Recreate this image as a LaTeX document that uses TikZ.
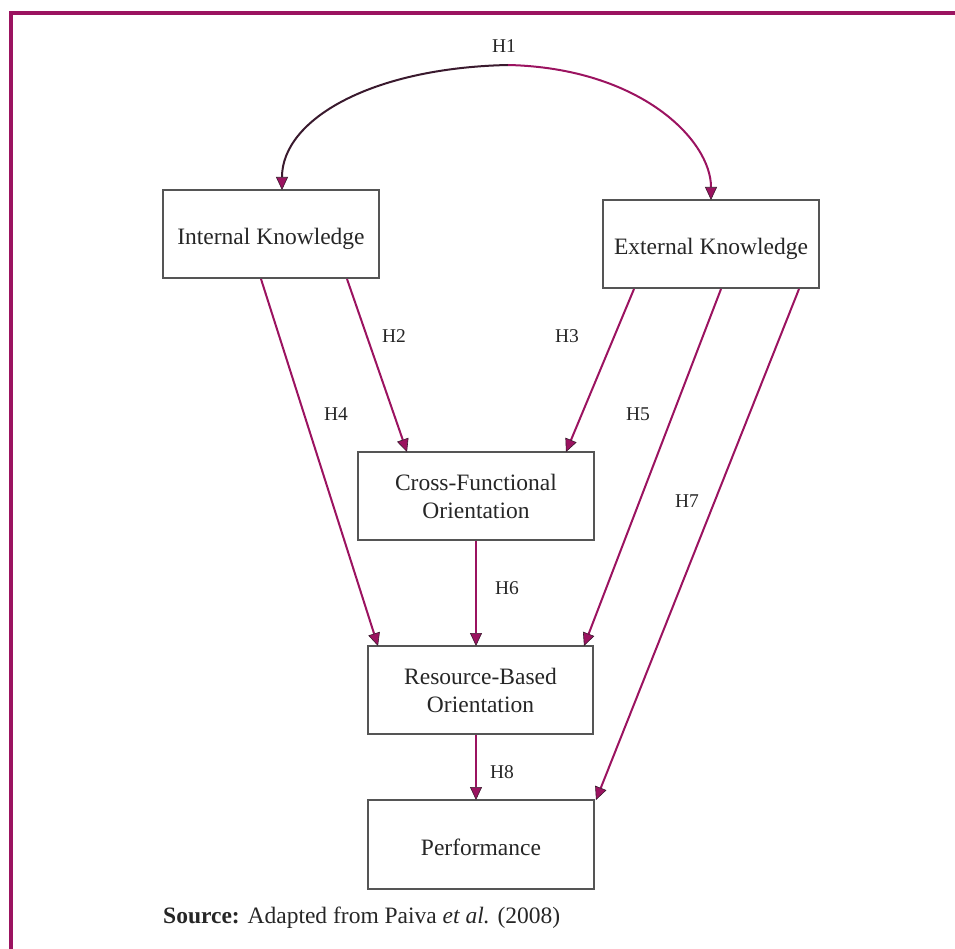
\documentclass[tikz,border=0pt]{standalone}
\usepackage{fontspec}
\setmainfont{Liberation Serif}
\usetikzlibrary{arrows.meta}
\definecolor{mag}{HTML}{9B1360}
\definecolor{dark}{HTML}{3A1A2E}
\definecolor{boxc}{HTML}{555555}
\newcommand{\lowr}[2]{\raisebox{-#1}[\height][\depth]{#2}}
\begin{document}
\begin{tikzpicture}[x=1pt,y=-1pt,
  box/.style={draw=boxc,line width=1.5pt,inner sep=0pt,align=center,font=\fontsize{23.5}{28}\selectfont,text=black!85},
  tip/.style={-{Triangle[length=13pt,width=12pt,color=dark,fill=mag,line width=0.6pt]}},
  conn/.style={draw=mag,line width=2pt,tip},
  lab/.style={font=\fontsize{19.5}{22}\selectfont,text=black!85}]
\useasboundingbox (0,0) rectangle (955,949);
\draw[mag,line width=3.5pt] (9,13) -- (955,13);
\draw[mag,line width=3.5pt] (11,12) -- (11,949);
\node[box,minimum width=216pt,minimum height=88pt] (ik) at (271,234) {\lowr{5pt}{Internal Knowledge}};
\node[box,minimum width=216pt,minimum height=88pt] (ek) at (711,244) {\lowr{5pt}{External Knowledge}};
\node[box,minimum width=236pt,minimum height=88pt] (cf) at (476,496) {Cross-Functional\\Orientation};
\node[box,minimum width=225pt,minimum height=88pt] (rb) at (480.5,690) {Resource-Based\\Orientation};
\node[box,minimum width=226pt,minimum height=89pt] (pf) at (481,844.5) {\lowr{3pt}{Performance}};
\coordinate (top) at (508,65);
\coordinate (ikt) at (282,190);
\coordinate (ekt) at (711,200);
\draw[dark,line width=2pt,tip] (top) .. controls (370,68) and (282,120) .. (ikt);
\draw[conn] (top) .. controls (640,68) and (711,140) .. (ekt);
\node[lab] (h1) at (504,46) {H1};
\coordinate (a2) at (347,279); \coordinate (b2) at (407,452);
\coordinate (a3) at (634,289); \coordinate (b3) at (566,452);
\coordinate (a4) at (261,279); \coordinate (b4) at (378,646);
\coordinate (a5) at (721,289); \coordinate (b5) at (584,646);
\coordinate (a6) at (476,541); \coordinate (b6) at (476,646);
\coordinate (a7) at (799,289); \coordinate (b7) at (596,800);
\coordinate (a8) at (476,735); \coordinate (b8) at (476,800);
\draw[conn] (a2) -- (b2);
\draw[conn] (a3) -- (b3);
\draw[conn] (a4) -- (b4);
\draw[conn] (a5) -- (b5);
\draw[conn] (a6) -- (b6);
\draw[conn] (a7) -- (b7);
\draw[conn] (a8) -- (b8);
\node[lab] (h2) at (394,336) {H2};
\node[lab] (h3) at (567,336) {H3};
\node[lab] (h4) at (336,414) {H4};
\node[lab] (h5) at (638,414) {H5};
\node[lab] (h6) at (507,588) {H6};
\node[lab] (h7) at (687,501) {H7};
\node[lab] (h8) at (502,772) {H8};
\node[anchor=west,font=\fontsize{23.5}{28}\selectfont,text=black!85,inner sep=0pt] (src) at (163,918) {\textbf{Source:} Adapted from Paiva \textit{et al.} (2008)};
\end{tikzpicture}
\end{document}
